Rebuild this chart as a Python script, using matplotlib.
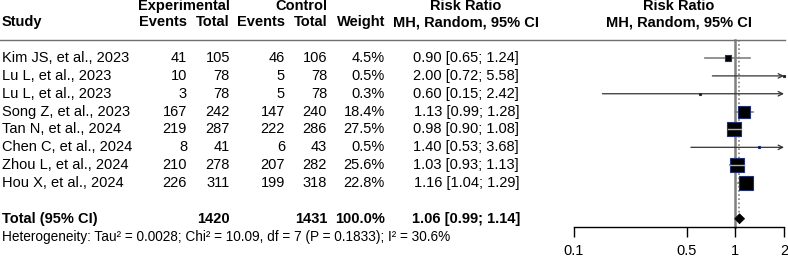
import numpy as np
import matplotlib
matplotlib.use('Agg')
import matplotlib.pyplot as plt
import matplotlib.transforms as mtransforms
from matplotlib.lines import Line2D
from matplotlib.patches import Polygon

plt.rcParams['font.family'] = ['Liberation Sans', 'DejaVu Sans']
plt.rcParams['font.size'] = 10.5

# Study data
studies = ['Kim JS, et al., 2023', 'Lu L, et al., 2023', 'Lu L, et al., 2023', 'Song Z, et al., 2023',
           'Tan N, et al., 2024', 'Chen C, et al., 2024', 'Zhou L, et al., 2024', 'Hou X, et al., 2024']
exp_events = [41, 10, 3, 167, 219, 8, 210, 226]
exp_total = [105, 78, 78, 242, 287, 41, 278, 311]
ctrl_events = [46, 5, 5, 147, 222, 6, 207, 199]
ctrl_total = [106, 78, 78, 240, 286, 43, 282, 318]
weights = [4.5, 0.5, 0.3, 18.4, 27.5, 0.5, 25.6, 22.8]
rr = [0.90, 2.00, 0.60, 1.13, 0.98, 1.40, 1.03, 1.16]
rr_lo = [0.65, 0.72, 0.15, 0.99, 0.90, 0.53, 0.93, 1.04]
rr_hi = [1.24, 5.58, 2.42, 1.28, 1.08, 3.68, 1.13, 1.29]

total_exp = 1420
total_ctrl = 1431
pooled = 1.06
pooled_lo = 0.99
pooled_hi = 1.14
het_text = 'Heterogeneity: Tau² = 0.0028; Chi² = 10.09, df = 7 (P = 0.1833); I² = 30.6%'

xticks = [0.1, 0.5, 1, 2]
xlim = (0.1, 2)

W, H = 788, 260
fig = plt.figure(figsize=(W / 100, H / 100), dpi=100)
ax = fig.add_axes([574 / W, 0, 210 / W, 1])
ax.set_xscale('log')
ax.set_xlim(*xlim)
ax.set_ylim(11.31, -3.25)

trans = mtransforms.blended_transform_factory(fig.transFigure, ax.transData)

def put(xpx, row, s, ha='right', bold=False, size=None):
    fig.text(xpx / W, row, s, transform=trans, ha=ha, va='center',
             fontweight='bold' if bold else 'normal', fontsize=size)

# headers
put(230, -2.9, 'Experimental', bold=True)
put(327, -2.9, 'Control', bold=True)
put(466, -2.9, 'Risk Ratio', ha='center', bold=True)
put(679, -2.9, 'Risk Ratio', ha='center', bold=True)
put(2, -2, 'Study', ha='left', bold=True)
put(187, -2, 'Events', bold=True)
put(230, -2, 'Total', bold=True)
put(285, -2, 'Events', bold=True)
put(327, -2, 'Total', bold=True)
put(385, -2, 'Weight', bold=True)
put(466, -2, 'MH, Random, 95% CI', ha='center', bold=True)
put(679, -2, 'MH, Random, 95% CI', ha='center', bold=True)

fig.add_artist(Line2D([0, 785 / W], [-1, -1], transform=trans, color='#707070', lw=1))

rows = np.arange(len(studies))
for i in rows:
    put(2, i, studies[i], ha='left')
    put(187, i, str(exp_events[i]))
    put(230, i, str(exp_total[i]))
    put(285, i, str(ctrl_events[i]))
    put(327, i, str(ctrl_total[i]))
    put(385, i, f'{weights[i]:.1f}%')
    put(519, i, f'{rr[i]:.2f} [{rr_lo[i]:.2f}; {rr_hi[i]:.2f}]')

trow = len(studies) + 1
put(2, trow, 'Total (95% CI)', ha='left', bold=True)
put(230, trow, str(total_exp), bold=True)
put(327, trow, str(total_ctrl), bold=True)
put(385, trow, '100.0%', bold=True)
put(520, trow, f'{pooled:.2f} [{pooled_lo:.2f}; {pooled_hi:.2f}]', bold=True)
put(2, trow + 1, het_text, ha='left', size=9.8)

# reference lines
axis_row = trow + 0.46
ax.plot([1, 1], [-1, axis_row], color='#808080', lw=1.8, zorder=1)
ax.plot([pooled, pooled], [-1, trow - 0.3], color='#808080', lw=1.2, ls=(0, (1, 1.5)), zorder=1)

# studies
log_span = np.log10(xlim[1]) - np.log10(xlim[0])
for i in rows:
    side = 15 * np.sqrt(weights[i] / max(weights))
    half = (side / 2) / 210 * log_span
    lo = max(rr_lo[i], xlim[0])
    if rr_hi[i] > xlim[1]:
        ax.annotate('', xy=(xlim[1], i), xytext=(lo, i),
                    arrowprops=dict(arrowstyle='->', color='#333333', lw=0.9,
                                    shrinkA=0, shrinkB=0, mutation_scale=8), zorder=2)
    else:
        ax.plot([lo, rr_hi[i]], [i, i], color='#808080', lw=1.2, zorder=2)
    ax.plot(rr[i], i, marker='s', markersize=max(side, 2.5) / 1.389, markerfacecolor='black',
            markeredgecolor='#1f2f6f', markeredgewidth=0.8, zorder=3, clip_on=False)
    box_lo = 10 ** (np.log10(rr[i]) - half)
    box_hi = 10 ** (np.log10(rr[i]) + half)
    if rr_lo[i] >= box_lo and rr_hi[i] <= box_hi:
        ax.plot([rr_lo[i], rr_hi[i]], [i, i], color='#b0b0b0', lw=1.0, zorder=4)

# pooled diamond
dh = 0.28
ax.add_patch(Polygon([(pooled_lo, trow), (pooled, trow - dh), (pooled_hi, trow), (pooled, trow + dh)],
                     closed=True, facecolor='black', edgecolor='black', lw=0.5, zorder=3))

# axis
for s in ['top', 'right', 'left']:
    ax.spines[s].set_visible(False)
ax.spines['bottom'].set_position(('data', axis_row))
ax.spines['bottom'].set_linewidth(1)
ax.set_yticks([])
ax.set_xticks(xticks)
ax.set_xticklabels(['0.1', '0.5', '1', '2'])
ax.xaxis.set_minor_locator(matplotlib.ticker.NullLocator())
ax.tick_params(axis='x', direction='out', length=7.2, width=1, pad=5, labelsize=10.5)
ax.patch.set_visible(False)

fig.savefig('out.png', dpi=100)
